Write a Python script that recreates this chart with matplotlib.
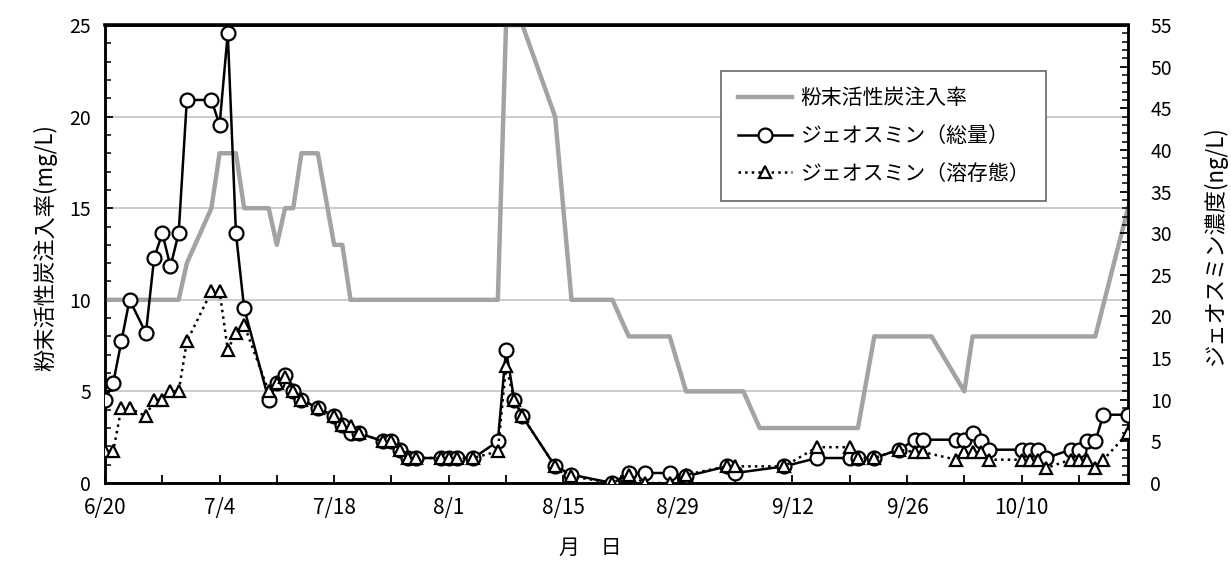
import numpy as np
import matplotlib
matplotlib.use('Agg')
import matplotlib.pyplot as plt
from matplotlib.ticker import MultipleLocator

plt.rcParams['font.family'] = ['Noto Sans CJK JP', 'DejaVu Sans']

# x values are days counted from 6/20
pac_day = [0, 9, 10, 13, 14, 16, 17, 20, 21, 22, 23, 24, 26, 28, 29, 30, 48, 49, 51, 55, 57,
           62, 64, 69, 71, 78, 80, 92, 94, 101, 105, 106, 121, 125]
pac_rate = [10, 10, 12, 15, 18, 18, 15, 15, 13, 15, 15, 18, 18, 13, 13, 10, 10, 25, 25, 20, 10,
            10, 8, 8, 5, 5, 3, 3, 8, 8, 5, 8, 8, 15]

geo_day = [0, 1, 2, 3, 5, 6, 7, 8, 9, 10, 13, 14, 15, 16, 17, 20, 21, 22, 23, 24,
           26, 28, 29, 30, 31, 34, 35, 36, 37, 38, 41, 42, 43, 45, 48, 49, 50, 51, 55, 57,
           62, 64, 66, 69, 71, 76, 77, 83, 87, 91, 92, 94, 97, 99, 100, 104, 105, 106, 107, 108,
           112, 113, 114, 115, 118, 119, 120, 121, 122, 125]
geo_total = [10, 12, 17, 22, 18, 27, 30, 26, 30, 46, 46, 43, 54, 30, 21, 10, 12, 13, 11, 10,
             9, 8, 7, 6, 6, 5, 5, 4, 3, 3, 3, 3, 3, 3, 5, 16, 10, 8, 2, 1,
             0, 1.2, 1.2, 1.2, 0.8, 2, 1.2, 2, 3, 3, 3, 3, 4, 5.2, 5.2, 5.2, 5.2, 6, 5, 4,
             4, 4, 4, 3, 4, 4, 5, 5, 8.2, 8.2]
geo_diss = [3.8, 3.8, 9, 9, 8, 10, 10, 11, 11, 17, 23, 23, 16, 18, 19, 11, 12, 12.7, 11, 10,
            9, 8, 7, 6.8, 6, 5, 5, 4, 3, 3, 3, 3, 3, 3, 3.8, 14, 10, 8, 2, 0.8,
            0, 1, 0, 0, 1, 2, 2, 2, 4.3, 4.3, 3, 3, 4, 3.7, 3.7, 2.8, 3.7, 3.7, 3.7, 2.8,
            2.8, 2.8, 2.8, 1.8, 2.8, 2.8, 2.8, 1.8, 2.8, 6]

tick_days = [0, 14, 28, 42, 56, 70, 84, 98, 112]
tick_labels = ['6/20', '7/4', '7/18', '8/1', '8/15', '8/29', '9/12', '9/26', '10/10']

fig = plt.figure(figsize=(12.31, 5.61), dpi=100)
ax = fig.add_axes([105/1231, 78/561, 1023/1231, 458/561])
ax2 = ax.twinx()

l1, = ax.plot(pac_day, pac_rate, color='#a3a3a3', lw=3.2, label='粉末活性炭注入率', zorder=3)
l2, = ax2.plot(geo_day, geo_total, color='black', lw=1.8, marker='o', ms=10,
               mfc='white', mec='black', mew=1.6, label='ジェオスミン（総量）', zorder=4)
l3, = ax2.plot(geo_day, geo_diss, color='black', lw=1.8, ls=':', marker='^', ms=9,
               mfc='white', mec='black', mew=1.6, label='ジェオスミン（溶存態）', zorder=5)

ax.set_xlim(0, 125)
ax.set_ylim(0, 25)
ax2.set_ylim(0, 55)

ax.set_xticks(tick_days)
ax.set_xticklabels(tick_labels)
ax.xaxis.set_minor_locator(MultipleLocator(7))
ax.yaxis.set_major_locator(MultipleLocator(5))
ax.yaxis.set_minor_locator(MultipleLocator(1))
ax2.yaxis.set_major_locator(MultipleLocator(5))
ax2.yaxis.set_minor_locator(MultipleLocator(1))

ax.tick_params(axis='x', which='both', direction='in', length=6, width=1.3, pad=10, labelsize=15)
ax.tick_params(axis='y', which='major', direction='in', length=6, width=1.3, pad=10, labelsize=14)
ax.tick_params(axis='y', which='minor', direction='in', length=4, width=1.1)
ax2.tick_params(axis='y', which='major', direction='in', length=6, width=1.3, pad=16, labelsize=14)
ax2.tick_params(axis='y', which='minor', direction='in', length=4, width=1.1)

ax.grid(axis='y', which='major', color='#c8c8c8', lw=1.3)
ax.set_axisbelow(True)
for a in (ax, ax2):
    for s in a.spines.values():
        s.set_linewidth(1.8)
ax2.spines['top'].set_linewidth(2.6)

fig.text(45/1231, 1 - 248/561, '粉末活性炭注入率(mg/L)', rotation=90,
         ha='center', va='center', fontsize=16)
fig.text(1215/1231, 1 - 245/561, 'ジェオスミン濃度(ng/L)', rotation=90,
         ha='center', va='center', fontsize=16)
fig.text(590/1231, 1 - 548/561, '月　日', ha='center', va='center', fontsize=15)

leg = ax2.legend([l1, l2, l3], [l1.get_label(), l2.get_label(), l3.get_label()],
                 loc='upper left', bbox_to_anchor=(0.602, 0.90), fancybox=False,
                 edgecolor='#666666', framealpha=1, fontsize=15, handlelength=2.6,
                 labelspacing=0.75, borderpad=0.8, handletextpad=0.4, borderaxespad=0)
leg.get_frame().set_linewidth(1.2)

fig.savefig('out.png', dpi=100)
